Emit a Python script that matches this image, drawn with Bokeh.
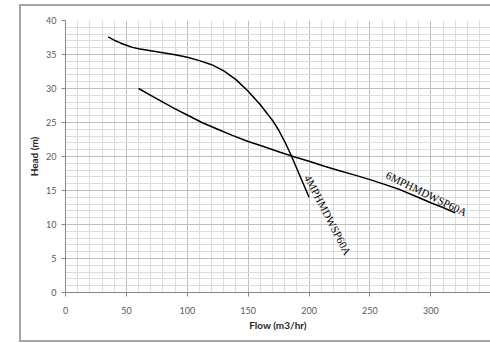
from bokeh.plotting import figure
from bokeh.models import SingleIntervalTicker, Range1d
from bokeh.core.properties import value
from bokeh.embed import file_html
from bokeh.resources import INLINE

# data
flow_4m = [35, 40, 45, 50, 55, 60, 70, 80, 90, 100, 110, 120, 130, 140, 150, 160, 170, 175, 180, 185, 190, 195, 200]
head_4m = [37.6, 37.1, 36.7, 36.35, 36.05, 35.85, 35.55, 35.25, 34.95, 34.6, 34.1, 33.5, 32.6, 31.3, 29.6, 27.6, 25.3, 23.9, 22.2, 20.3, 18.2, 16.1, 14.0]
flow_6m = [60, 70, 80, 90, 100, 112, 125, 137, 150, 162, 175, 187, 200, 212, 225, 237, 250, 262, 275, 287, 300, 310, 320]
head_6m = [30.0, 29.0, 28.0, 27.0, 26.1, 25.0, 24.0, 23.1, 22.2, 21.5, 20.7, 20.0, 19.3, 18.6, 17.9, 17.3, 16.6, 15.9, 15.1, 14.2, 13.2, 12.5, 11.7]
labels = ["4MPHMDWSP60A", "6MPHMDWSP60A"]
label_x = [203, 266]
label_y = [17.6, 18.2]
label_angle = [-62.5, -26]

p = figure(width=490, height=343, output_backend="svg", toolbar_location=None,
           x_range=Range1d(0, 349), y_range=Range1d(0, 40),
           min_border_left=65, min_border_right=0, min_border_top=20, min_border_bottom=51)
p.outline_line_color = None
p.background_fill_color = "white"
p.border_fill_color = None
g = "linear-gradient(#a6a6a6,#a6a6a6)"
p.styles = {
    "background-color": "white",
    "background-image": f"{g}, {g}, {g}",
    "background-size": "2px 338px, 480px 2px, 480px 2px",
    "background-position": "19px 4px, 19px 4px, 19px 340px",
    "background-repeat": "no-repeat",
}

p.xaxis.ticker = SingleIntervalTicker(interval=50, num_minor_ticks=5)
p.yaxis.ticker = SingleIntervalTicker(interval=5, num_minor_ticks=5)

for ax in (p.xaxis, p.yaxis):
    ax.axis_line_color = "#868686"
    ax.major_tick_line_color = "#868686"
    ax.major_tick_out = 4
    ax.major_tick_in = 0
    ax.minor_tick_line_color = None
    ax.major_label_text_font = "Lato"
    ax.major_label_text_font_size = "9px"
    ax.major_label_text_color = "#595959"
    ax.axis_label_text_font = "Lato"
    ax.axis_label_text_font_size = "10px"
    ax.axis_label_text_font_style = "bold"
    ax.axis_label_text_color = "#262626"

p.xaxis.axis_label = "Flow (m3/hr)"
p.yaxis.axis_label = "Head (m)"
p.xaxis.major_label_standoff = 10
p.yaxis.major_label_standoff = 5
p.xaxis.axis_label_standoff = 2
p.yaxis.axis_label_standoff = 3

for gr in (p.xgrid, p.ygrid):
    gr.grid_line_color = "#bfbfbf"
    gr.minor_grid_line_color = "#dcdcdc"

p.line(flow_4m, head_4m, line_color="black", line_width=1.5, line_join="round")
p.line(flow_6m, head_6m, line_color="black", line_width=1.5, line_join="round")

p.text(x=label_x, y=label_y, text=labels, angle=label_angle, angle_units="deg",
       text_font=value("Liberation Serif"), text_font_size="11px",
       text_color="black", text_align="left", text_baseline="top")

open("out.html", "w").write(file_html(p, INLINE))
